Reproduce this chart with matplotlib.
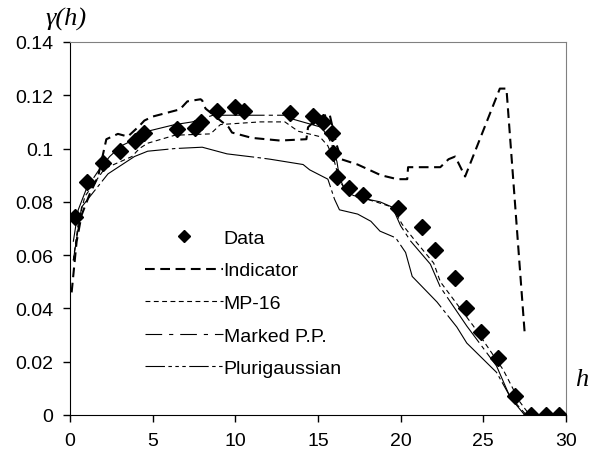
import matplotlib
matplotlib.use('Agg')
import matplotlib.pyplot as plt
from matplotlib.lines import Line2D
from matplotlib.ticker import FuncFormatter

plt.rcParams['font.family'] = ['Liberation Sans', 'DejaVu Sans']
plt.rcParams['lines.scale_dashes'] = False

# ── Experimental variogram (lag h, gamma)
data_h = [0.3, 1.06, 2.01, 3.02, 3.93, 4.47, 6.49, 7.56, 7.9, 8.87, 9.98, 10.53,
          13.31, 14.72, 15.33, 15.83, 15.93, 16.13, 16.88, 17.7, 19.87, 21.27,
          22.08, 23.3, 23.93, 24.84, 25.9, 26.92, 27.9, 28.8, 29.6]
data_g = [0.0742, 0.0876, 0.0947, 0.099, 0.1027, 0.106, 0.1072, 0.1078, 0.110,
          0.1141, 0.1157, 0.1141, 0.1132, 0.1122, 0.1101, 0.106, 0.0985, 0.0895,
          0.0851, 0.0825, 0.0775, 0.0704, 0.062, 0.0514, 0.040, 0.031, 0.0213,
          0.0072, 0.0, 0.0, 0.0]

# ── Simulated variograms
ind_h = [0.1, 0.4, 0.7, 1.2, 1.7, 2.2, 2.9, 3.5, 4.2, 4.5, 5.0, 6.65, 7.1, 7.9,
         8.0, 8.2, 9.6, 9.8, 11.0, 12.7, 14.3, 14.4, 15.0, 15.7, 16.1, 16.4,
         17.4, 18.8, 19.8, 20.4, 20.45, 22.4, 22.9, 23.3, 23.9, 26.0, 26.4, 27.5]
ind_g = [0.046, 0.065, 0.075, 0.083, 0.0895, 0.1035, 0.1055, 0.1045, 0.1085,
         0.1105, 0.112, 0.1147, 0.1177, 0.1185, 0.118, 0.115, 0.108, 0.106, 0.104,
         0.103, 0.1035, 0.108, 0.1115, 0.113, 0.102, 0.096, 0.094, 0.090, 0.0885,
         0.0885, 0.093, 0.093, 0.096, 0.097, 0.0895, 0.1225, 0.1225, 0.031]

mp_h = [0.2, 0.5, 0.9, 2.1, 3.75, 4.2, 4.7, 6.35, 8.5, 9.1, 11.5, 13.0, 13.8,
        15.1, 15.6, 16.0, 16.3, 16.8, 18.5, 19.5, 20.1, 20.8, 22.0, 22.4, 24.4,
        26.2, 27.2, 27.8]
mp_g = [0.058, 0.072, 0.082, 0.0925, 0.097, 0.100, 0.102, 0.105, 0.1055, 0.109,
        0.110, 0.110, 0.1065, 0.1045, 0.101, 0.095, 0.088, 0.083, 0.080, 0.078,
        0.0715, 0.066, 0.057, 0.050, 0.0334, 0.017, 0.005, 0.0]

mpp_h = [0.2, 0.5, 1.0, 1.7, 2.4, 3.1, 4.1, 4.7, 6.35, 7.4, 8.65, 11.5, 13.3,
         13.5, 15.2, 15.6, 15.9, 16.15, 16.3, 16.6, 17.2, 18.75, 19.5, 20.0, 20.6,
         21.8, 22.4, 24.0, 25.8, 26.6, 27.6]
mpp_g = [0.065, 0.077, 0.085, 0.0915, 0.097, 0.101, 0.104, 0.1065, 0.109, 0.110,
         0.1125, 0.1125, 0.1125, 0.111, 0.108, 0.1045, 0.1005, 0.095, 0.089,
         0.085, 0.082, 0.080, 0.078, 0.071, 0.0653, 0.0566, 0.048, 0.0334, 0.0184,
         0.007, 0.0]

plg_h = [0.2, 0.7, 1.4, 2.3, 3.9, 4.7, 6.35, 8.0, 9.5, 11.5, 12.1, 14.1, 14.5,
         15.6, 16.0, 16.3, 17.4, 18.2, 18.75, 19.7, 20.3, 20.7, 22.2, 23.4, 24.0,
         25.8, 26.7, 27.5]
plg_g = [0.058, 0.078, 0.0835, 0.0905, 0.097, 0.099, 0.100, 0.1005, 0.098,
         0.0965, 0.096, 0.094, 0.092, 0.0885, 0.081, 0.077, 0.0754, 0.0727, 0.069,
         0.0665, 0.061, 0.052, 0.0424, 0.033, 0.027, 0.016, 0.006, 0.0]

labels = ['Data', 'Indicator', 'MP-16', 'Marked P.P.', 'Plurigaussian']

# dash patterns for the legend keys
IND_DASH = (0, (7, 4))
MP_DASH = (0, (3.5, 2.5))
MPP_DASH = (0, (12, 5, 3, 5))
PLG_DASH = (0, (14, 2.5, 2.5, 2.5, 2.5, 2.5, 2.5, 2.5))

fig = plt.figure(figsize=(5.94, 4.6), dpi=100)
ax = fig.add_axes([0.1178, 0.0957, 0.835, 0.8109])

ax.plot(ind_h, ind_g, color='black', lw=1.5, linestyle=IND_DASH)
ax.plot(mp_h, mp_g, color='black', lw=0.8, linestyle=MP_DASH)
# in the curves the long strokes dominate, so they look almost solid
ax.plot(mpp_h, mpp_g, color='black', lw=0.8, linestyle=(0, (40, 3, 3, 3)))
ax.plot(plg_h, plg_g, color='black', lw=0.8, linestyle=(0, (55, 2.5, 2.5, 2.5)))
ax.plot(data_h, data_g, linestyle='none', marker='D', color='black',
        markersize=8, zorder=5)

ax.set_xlim(0, 30)
ax.set_ylim(0, 0.14)
ax.set_xticks(range(0, 31, 5))
ax.set_yticks([0, 0.02, 0.04, 0.06, 0.08, 0.1, 0.12, 0.14])
ax.yaxis.set_major_formatter(FuncFormatter(lambda v, p: '%g' % round(v, 2)))
ax.tick_params(direction='out', length=5, width=1, labelsize=14,
               top=False, right=False, colors='black')
ax.tick_params(axis='x', pad=7)
ax.tick_params(axis='y', pad=7)

for side in ['top', 'right']:
    ax.spines[side].set_color('#808080')
for side in ['left', 'bottom']:
    ax.spines[side].set_color('black')

fig.text(0.112, 0.957, 'γ(h)', family='Liberation Serif', style='italic',
         fontsize=19, ha='center', va='center')
fig.text(0.98, 0.174, 'h', family='Liberation Serif', style='italic',
         fontsize=19, ha='center', va='center')

handles = [
    Line2D([], [], linestyle='none', marker='D', color='black', markersize=6.5),
    Line2D([], [], color='black', lw=1.5, linestyle=IND_DASH),
    Line2D([], [], color='black', lw=0.8, linestyle=MP_DASH),
    Line2D([], [], color='black', lw=0.8, linestyle=MPP_DASH),
    Line2D([], [], color='black', lw=0.8, linestyle=PLG_DASH),
]
ax.legend(handles, labels, loc='upper left', bbox_to_anchor=(0.151, 0.498),
          frameon=False, fontsize=14, handlelength=4.0, handletextpad=0.05,
          labelspacing=0.77, borderpad=0, borderaxespad=0)

fig.savefig('out.png', dpi=100)
